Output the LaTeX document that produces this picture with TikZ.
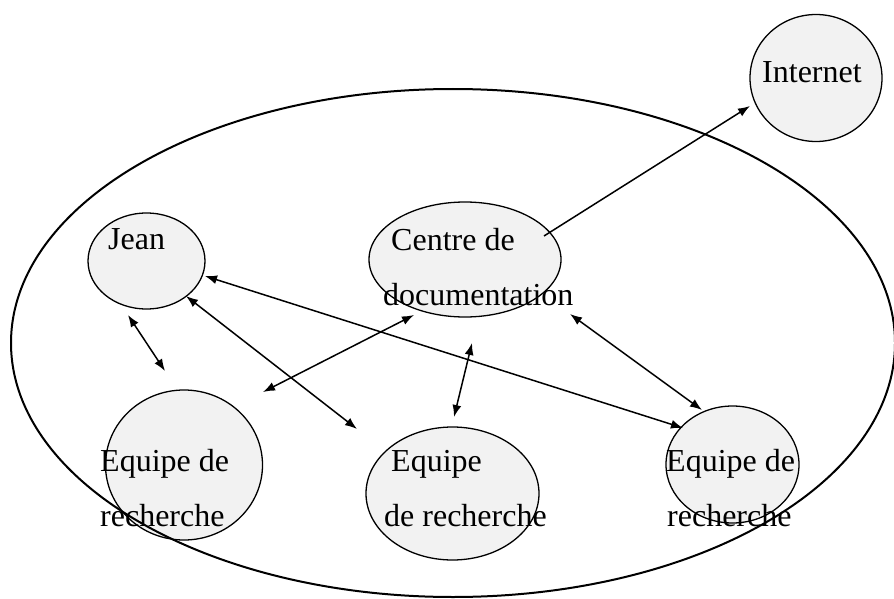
\documentclass[tikz,border=0pt]{standalone}
\usepackage{fontspec}
\setmainfont{Liberation Serif}
\usetikzlibrary{arrows.meta,shapes.geometric}
\begin{document}
\begin{tikzpicture}[x=1pt,y=-1pt,
  bubble/.style={ellipse,draw=black,line width=1.3pt,fill=gray!10,inner sep=0pt},
  lbl/.style={anchor=base west,inner sep=0pt,font=\fontsize{32}{32}\selectfont},
  link/.style={line width=1.5pt,{Latex[length=12pt,width=9pt]}-{Latex[length=12pt,width=9pt]}},
  onelink/.style={line width=1.5pt,-{Latex[length=12pt,width=9pt]}}]
\useasboundingbox (0,0) rectangle (894,599);
% bubbles
\node[bubble,minimum width=132pt,minimum height=127pt] (internet) at (816,78) {};
\node[bubble,minimum width=117pt,minimum height=96pt] (jean) at (146.5,261) {};
\node[bubble,minimum width=192pt,minimum height=115pt] (centre) at (465,259.5) {};
\node[bubble,minimum width=157pt,minimum height=150pt] (eq1) at (184,465) {};
\node[bubble,minimum width=173pt,minimum height=133pt] (eq2) at (452.5,493.5) {};
\node[bubble,minimum width=133pt,minimum height=117pt] (eq3) at (732.5,464.5) {};
% outer ellipse
\draw[line width=2pt] (453,343) ellipse [x radius=442, y radius=254];
% connector ends
\coordinate (ci) at (544,236);
\coordinate (ie) at (750,106);
\coordinate (j1) at (128,315);
\coordinate (e1a) at (165,371);
\coordinate (j2) at (186,296);
\coordinate (e2a) at (357,429);
\coordinate (j3) at (205,276);
\coordinate (e3a) at (683,428);
\coordinate (c1) at (414,315);
\coordinate (e1b) at (263,392);
\coordinate (c2) at (472,343);
\coordinate (e2b) at (454,417);
\coordinate (c3) at (570,314);
\coordinate (e3b) at (702,410);
% connectors
\draw[onelink] (ci) -- (ie);
\draw[link] (j1) -- (e1a);
\draw[link] (j2) -- (e2a);
\draw[link] (j3) -- (e3a);
\draw[link] (c1) -- (e1b);
\draw[link] (c2) -- (e2b);
\draw[link] (c3) -- (e3b);
% texts
\node[lbl] (tint) at (762,83) {Internet};
\node[lbl] (tjean) at (108,249) {Jean};
\node[lbl] (tc1) at (391,250) {Centre de};
\node[lbl] (tc2) at (383,305) {documentation};
\node[lbl] (te1a) at (100,471) {Equipe de};
\node[lbl] (te1b) at (100,526) {recherche};
\node[lbl] (te2a) at (391,471) {Equipe};
\node[lbl] (te2b) at (384,526) {de recherche};
\node[lbl] (te3a) at (666,471) {Equipe de};
\node[lbl] (te3b) at (667,526) {recherche};
\end{tikzpicture}
\end{document}
